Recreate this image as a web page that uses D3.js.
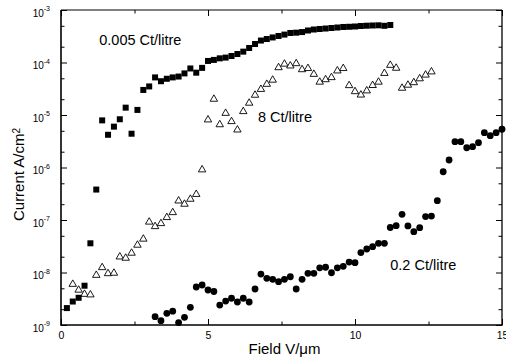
<!DOCTYPE html>
<html>
<head>
<meta charset="utf-8">
<script src="https://cdn.jsdelivr.net/npm/d3@7"></script>
<style>
  html, body { margin: 0; padding: 0; background: #fff; }
  svg { display: block; font-family: "Liberation Sans", Arial, sans-serif; }
</style>
</head>
<body>
<div id="chart"></div>
<script>
// 0.005 Ct/litre (filled squares)
const sqField = [0.2, 0.4, 0.6, 0.8, 1.0, 1.2, 1.4, 1.6, 1.8, 2.0, 2.2, 2.4, 2.6, 2.8, 3.0, 3.2, 3.4, 3.6, 3.8, 4.0,
  4.2, 4.4, 4.6, 4.8, 5.0, 5.2, 5.4, 5.6, 5.8, 6.0, 6.2, 6.4, 6.6, 6.8, 7.0, 7.2, 7.4, 7.6, 7.8, 8.0,
  8.2, 8.4, 8.6, 8.8, 9.0, 9.2, 9.4, 9.6, 9.8, 10.0, 10.2, 10.4, 10.6, 10.8, 11.0, 11.2];
const sqCurrent = [2.1e-9, 2.8e-9, 3.3e-9, 5.6e-9, 3.6e-8, 3.8e-7, 7.9e-6, 4.2e-6, 6.0e-6, 8.3e-6, 1.38e-5, 4.4e-6, 1.25e-5, 3.0e-5, 3.5e-5, 5.2e-5, 4.4e-5, 4.9e-5, 5.2e-5, 5.4e-5,
  6.2e-5, 7.7e-5, 6.4e-5, 7.9e-5, 1.07e-4, 1.12e-4, 1.2e-4, 1.24e-4, 1.33e-4, 1.45e-4, 1.61e-4, 1.89e-4, 2.25e-4, 2.62e-4, 2.8e-4, 3.0e-4, 3.2e-4, 3.4e-4, 3.65e-4, 3.7e-4,
  3.8e-4, 4.07e-4, 4.25e-4, 4.35e-4, 4.44e-4, 4.54e-4, 4.64e-4, 4.75e-4, 4.79e-4, 4.85e-4, 4.96e-4, 5.02e-4, 5.07e-4, 5.11e-4, 5.0e-4, 5.18e-4];

// 8 Ct/litre (open triangles)
const triField = [0.4, 0.6, 0.8, 1.0, 1.2, 1.4, 1.6, 1.8, 2.0, 2.2, 2.4, 2.6, 2.8, 3.0, 3.2, 3.4, 3.6, 3.8, 4.0, 4.2,
  4.4, 4.6, 4.8, 5.0, 5.2, 5.4, 5.6, 5.8, 6.0, 6.2, 6.4, 6.6, 6.8, 7.0, 7.2, 7.4, 7.6, 7.8, 8.0, 8.2,
  8.4, 8.6, 8.8, 9.0, 9.2, 9.4, 9.6, 9.8, 10.0, 10.2, 10.4, 10.6, 10.8, 11.0, 11.2, 11.4, 11.6, 11.8, 12.0, 12.2,
  12.4, 12.6];
const triCurrent = [6.2e-9, 4.8e-9, 4.0e-9, 3.9e-9, 9.2e-9, 1.29e-8, 9.9e-9, 1.01e-8, 2.06e-8, 1.95e-8, 2.43e-8, 3.45e-8, 4.5e-8, 9.5e-8, 7.8e-8, 8.9e-8, 1.16e-7, 1.44e-7, 2.4e-7, 2.08e-7,
  2.59e-7, 3.2e-7, 9.4e-7, 8.4e-6, 2.08e-5, 6.8e-6, 1.12e-5, 7.8e-6, 5.4e-6, 1.21e-5, 1.75e-5, 2.48e-5, 3.2e-5, 4.0e-5, 4.8e-5, 8.3e-5, 9.7e-5, 8.95e-5, 9.9e-5, 7.6e-5,
  8.0e-5, 6.2e-5, 4.4e-5, 4.9e-5, 5.37e-5, 7.2e-5, 8.0e-5, 3.78e-5, 2.9e-5, 2.5e-5, 3.0e-5, 3.8e-5, 4.4e-5, 6.45e-5, 9.2e-5, 8.1e-5, 3.37e-5, 3.85e-5, 4.3e-5, 5.1e-5,
  6.0e-5, 6.9e-5];

// 0.2 Ct/litre (filled circles)
const cirField = [3.2, 3.4, 3.6, 3.8, 4.0, 4.2, 4.4, 4.6, 4.8, 5.0, 5.2, 5.4, 5.6, 5.8, 6.0, 6.2, 6.4, 6.6, 6.8, 7.0,
  7.2, 7.4, 7.6, 7.8, 8.0, 8.2, 8.4, 8.6, 8.8, 9.0, 9.2, 9.4, 9.6, 9.8, 10.0, 10.2, 10.4, 10.6, 10.8, 11.0,
  11.2, 11.4, 11.6, 11.8, 12.0, 12.2, 12.4, 12.6, 12.8, 13.0, 13.2, 13.4, 13.6, 13.8, 14.0, 14.2, 14.4, 14.6, 14.8, 15.0];
const cirCurrent = [1.44e-9, 1.21e-9, 1.67e-9, 1.83e-9, 1.11e-9, 1.4e-9, 2.17e-9, 5.3e-9, 5.78e-9, 4.64e-9, 4.35e-9, 2.4e-9, 2.86e-9, 3.23e-9, 2.74e-9, 3.23e-9, 2.74e-9, 4.85e-9, 9.35e-9, 7.76e-9,
  7.42e-9, 6.68e-9, 7.42e-9, 8.3e-9, 4.85e-9, 7.42e-9, 9.66e-9, 9.66e-9, 1.23e-8, 1.26e-8, 9.9e-9, 1.23e-8, 1.31e-8, 1.58e-8, 1.54e-8, 2.4e-8, 2.8e-8, 3.1e-8, 3.6e-8, 3.6e-8,
  7.2e-8, 7.8e-8, 1.28e-7, 7.7e-8, 5.98e-8, 7.13e-8, 1.16e-7, 1.19e-7, 2.33e-7, 8.3e-7, 1.39e-6, 3.1e-6, 3.1e-6, 2.38e-6, 2.49e-6, 2.97e-6, 4.6e-6, 4.04e-6, 4.6e-6, 5.35e-6];

const xMajor = [0, 5, 10, 15];
const xMinor = [2.5, 7.5, 12.5];
const yExponents = [-9, -8, -7, -6, -5, -4, -3];

const seriesLabels = [
  { text: '0.005 Ct/litre', x: 1.3, y: 2.2e-4 },
  { text: '8 Ct/litre', x: 6.7, y: 7.5e-6 },
  { text: '0.2 Ct/litre', x: 11.2, y: 1.1e-8 }
];

const W = 506, H = 360;
const m = { t: 10, r: 4, b: 35, l: 61 };

const svg = d3.select('#chart').append('svg').attr('width', W).attr('height', H);

const x = d3.scaleLinear().domain([0, 15]).range([m.l, W - m.r]);
const y = d3.scaleLog().domain([1e-9, 1e-3]).range([H - m.b, m.t]);

const yMajor = yExponents.map(e => Math.pow(10, e));
const yMinor = [];
yExponents.slice(0, -1).forEach(e => { yMinor.push(2 * Math.pow(10, e), 5 * Math.pow(10, e)); });

const xL = x.range()[0], xR = x.range()[1];
const yT = y.range()[1], yB = y.range()[0];

// bottom axis
const gx = svg.append('g').attr('transform', `translate(0,${yB})`)
  .call(d3.axisBottom(x).tickValues(xMajor).tickSize(-6).tickSizeOuter(0).tickPadding(7).tickFormat(d3.format('d')));
gx.select('.domain').remove();
gx.selectAll('text').attr('font-size', 10.5).attr('font-family', null);
svg.append('g').attr('transform', `translate(0,${yB})`)
  .call(d3.axisBottom(x).tickValues(xMinor).tickSize(-3.5).tickFormat(''))
  .select('.domain').remove();

// top axis (ticks only)
const gt = svg.append('g').attr('transform', `translate(0,${yT})`)
  .call(d3.axisBottom(x).tickValues(xMajor).tickSize(6).tickFormat(''));
gt.select('.domain').remove();
svg.append('g').attr('transform', `translate(0,${yT})`)
  .call(d3.axisBottom(x).tickValues(xMinor).tickSize(3.5).tickFormat(''))
  .select('.domain').remove();

// left axis
const gy = svg.append('g').attr('transform', `translate(${xL},0)`)
  .call(d3.axisLeft(y).tickValues(yMajor).tickSize(-6).tickPadding(11).tickFormat(''));
gy.select('.domain').remove();
gy.selectAll('.tick text').each(function (d) {
  const t = d3.select(this).attr('font-size', 10).attr('font-family', null).attr('dy', '0.62em');
  t.text('10');
  t.append('tspan').attr('dy', '-0.75em').attr('font-size', 7).text(Math.round(Math.log10(d)));
});
svg.append('g').attr('transform', `translate(${xL},0)`)
  .call(d3.axisLeft(y).tickValues(yMinor).tickSize(-3.5).tickFormat(''))
  .select('.domain').remove();

// right axis (ticks only)
const gr = svg.append('g').attr('transform', `translate(${xR},0)`)
  .call(d3.axisLeft(y).tickValues(yMajor).tickSize(6).tickFormat(''));
gr.select('.domain').remove();
svg.append('g').attr('transform', `translate(${xR},0)`)
  .call(d3.axisLeft(y).tickValues(yMinor).tickSize(3.5).tickFormat(''))
  .select('.domain').remove();

// frame
svg.append('line').attr('x1', xL).attr('x2', xR).attr('y1', yT).attr('y2', yT).attr('stroke', '#000').attr('stroke-width', 1);
svg.append('line').attr('x1', xR).attr('x2', xR).attr('y1', yT).attr('y2', yB).attr('stroke', '#000').attr('stroke-width', 1.3);
svg.append('line').attr('x1', xL).attr('x2', xL).attr('y1', yT).attr('y2', yB).attr('stroke', '#000').attr('stroke-width', 1.6);
svg.append('line').attr('x1', xL - 0.8).attr('x2', xR + 0.7).attr('y1', yB).attr('y2', yB).attr('stroke', '#000').attr('stroke-width', 1.6);

// markers
const tri = d3.symbol().type(d3.symbolTriangle).size(24);
svg.append('g').selectAll('path')
  .data(d3.zip(triField, triCurrent))
  .enter().append('path')
  .attr('transform', d => `translate(${x(d[0])},${y(d[1]) + 0.8})`)
  .attr('d', tri)
  .attr('fill', '#fff')
  .attr('stroke', '#000')
  .attr('stroke-width', 0.9);

const sq = 6;
svg.append('g').selectAll('rect')
  .data(d3.zip(sqField, sqCurrent))
  .enter().append('rect')
  .attr('x', d => x(d[0]) - sq / 2)
  .attr('y', d => y(d[1]) - sq / 2)
  .attr('width', sq)
  .attr('height', sq)
  .attr('fill', '#000');

svg.append('g').selectAll('circle')
  .data(d3.zip(cirField, cirCurrent))
  .enter().append('circle')
  .attr('cx', d => x(d[0]))
  .attr('cy', d => y(d[1]))
  .attr('r', 3.4)
  .attr('fill', '#000');

// series labels
svg.append('g').selectAll('text')
  .data(seriesLabels)
  .enter().append('text')
  .attr('x', d => x(d.x))
  .attr('y', d => y(d.y))
  .attr('font-size', 14.5)
  .text(d => d.text);

// axis titles
svg.append('text')
  .attr('x', (xL + xR) / 2 + 3)
  .attr('y', 354)
  .attr('text-anchor', 'middle')
  .attr('font-size', 15)
  .text('Field V/\u03bcm');

const yt = svg.append('text')
  .attr('transform', `translate(24,${(yT + yB) / 2 + 7}) rotate(-90)`)
  .attr('text-anchor', 'middle')
  .attr('font-size', 15)
  .text('Current A/cm');
yt.append('tspan').attr('dy', '-0.45em').attr('font-size', 10).text('2');
</script>
</body>
</html>
